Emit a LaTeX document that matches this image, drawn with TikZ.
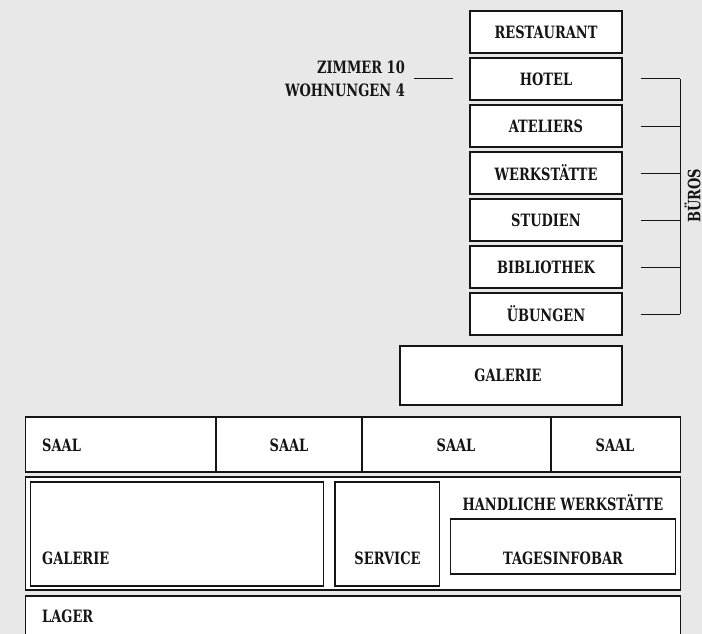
\documentclass[tikz,border=0pt]{standalone}
\usepackage{fontspec}
\setmainfont{DejaVu Serif Condensed}[FakeStretch=0.85]
\definecolor{bg}{HTML}{E8E8E8}
\definecolor{ink}{HTML}{151515}
\tikzset{
  box/.style={draw=ink, line width=1.1pt, fill=white, inner sep=0pt, rectangle},
  lbl/.style={inner sep=0pt, text=ink, font=\fontsize{17}{23}\selectfont\bfseries},
  conn/.style={draw=ink, line width=1pt},
}
\begin{document}
\begin{tikzpicture}[x=1pt,y=-1pt]
\path[fill=bg] (0,0) rectangle (702,634);
\useasboundingbox (0,0) rectangle (702,634);
\clip (0,0) rectangle (702,634);
% stack
\foreach \n/\t [count=\i from 0] in {rest/RESTAURANT,hotel/HOTEL,atel/ATELIERS,werk/WERKSTÄTTE,stud/STUDIEN,bibl/BIBLIOTHEK,ueb/ÜBUNGEN}{
  \node[box, minimum width=152pt, minimum height=42pt] (\n) at (546,32+47*\i) {};
  \node[lbl] (\n l) at (\n) {\t};
}
% left label
\node[lbl, anchor=east, align=right] (zimmer) at (405,79) {ZIMMER 10\\WOHNUNGEN 4};
\draw[conn] ([xshift=9pt]zimmer.east) -- ([xshift=-16pt]hotel.west);
% bracket
\foreach \n [count=\i from 1] in {hotel,atel,werk,stud,bibl,ueb}{
  \coordinate (b\i) at (680,32+47*\i);
  \draw[conn] ([xshift=18pt]\n.east) -- (b\i);
}
\draw[conn] (b1) -- (b6);
\node[lbl, rotate=90] (bueros) at (692.5,196) {BÜROS};
% galerie top
\node[box, minimum width=222pt, minimum height=59pt] (gal1) at (511,375.5) {};
\node[lbl] (gal1l) at (508,375) {GALERIE};
% saal row
\node[box, minimum width=190.5pt, minimum height=55pt] (saal1) at (120.75,444.5) {};
\node[box, minimum width=146pt, minimum height=55pt] (saal2) at (289,444.5) {};
\node[box, minimum width=189pt, minimum height=55pt] (saal3) at (456.5,444.5) {};
\node[box, minimum width=129.5pt, minimum height=55pt] (saal4) at (615.75,444.5) {};
\node[lbl, anchor=west] (saal1l) at (42,445) {SAAL};
\node[lbl] (saal2l) at (289,445) {SAAL};
\node[lbl] (saal3l) at (456,445) {SAAL};
\node[lbl] (saal4l) at (615,445) {SAAL};
% middle section
\node[box, minimum width=655pt, minimum height=113pt] (mid) at (353,533.5) {};
\node[box, minimum width=293pt, minimum height=104pt] (gal2) at (177,534) {};
\node[lbl, anchor=west] (gal2l) at (42,558) {GALERIE};
\node[box, minimum width=104.5pt, minimum height=104pt] (serv) at (387.25,534) {};
\node[lbl] (servl) at (387.5,558) {SERVICE};
\node[lbl] (handl) at (563,503) {HANDLICHE WERKSTÄTTE};
\node[box, minimum width=225pt, minimum height=55pt] (tag) at (563,546.5) {};
\node[lbl] (tagl) at (563,558) {TAGESINFOBAR};
% lager
\node[box, minimum width=655pt, minimum height=60pt] (lager) at (353,626) {};
\node[lbl, anchor=west] (lagerl) at (42,616) {LAGER};
\end{tikzpicture}
\end{document}
